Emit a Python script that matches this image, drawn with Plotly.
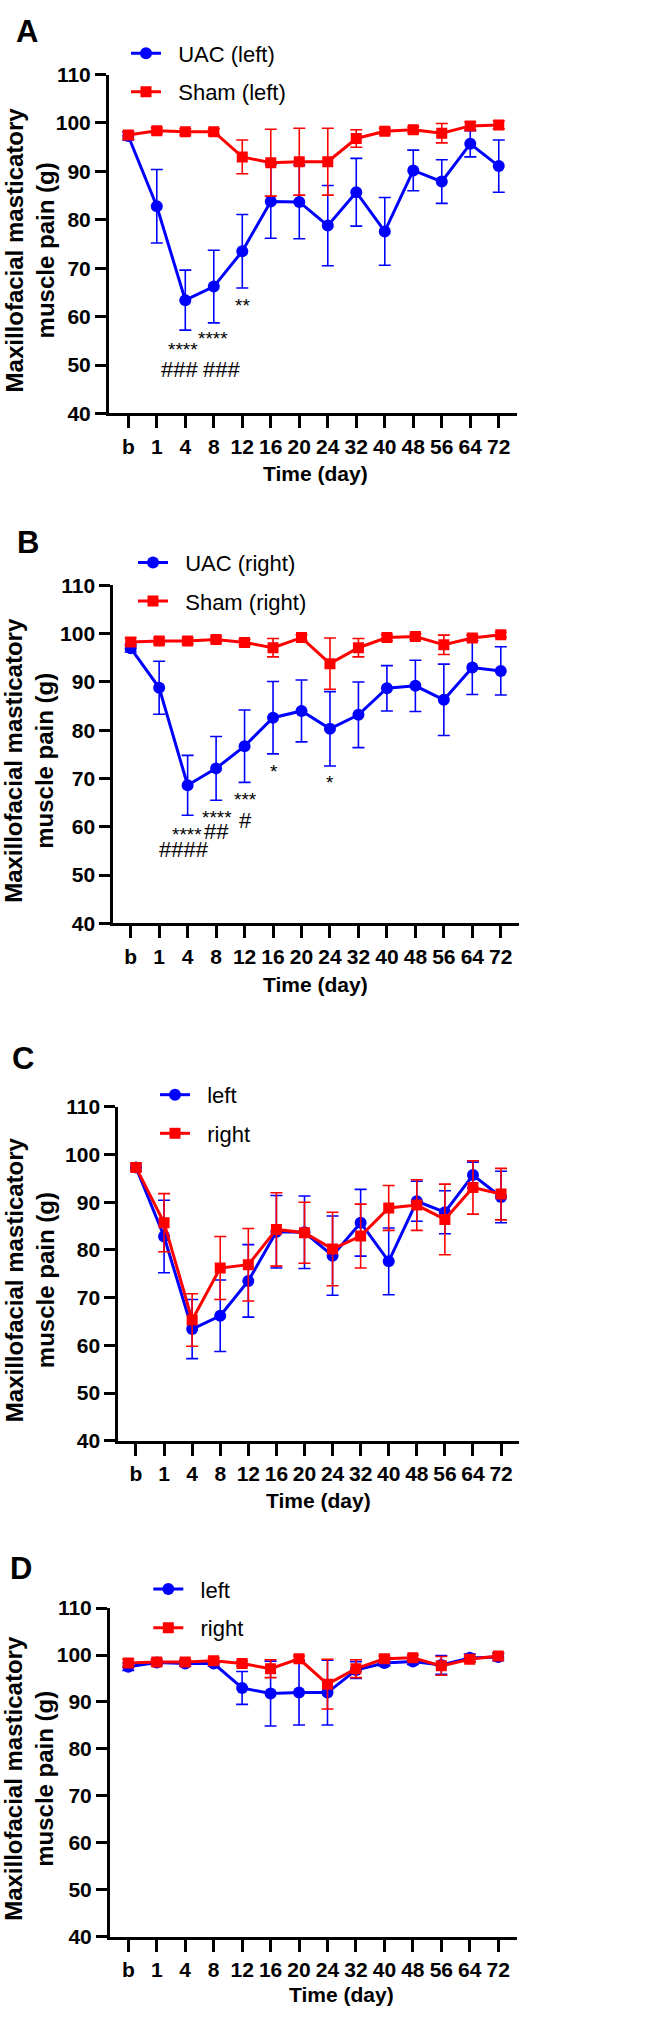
import plotly.graph_objects as go

W, H = 651, 2040

time_labels = ["b", "1", "4", "8", "12", "16", "20", "24", "32", "40", "48", "56", "64", "72"]

uac_left_mean = [97.3, 82.8, 63.4, 66.2, 73.5, 83.8, 83.7, 78.8, 85.7, 77.6, 90.2, 87.9, 95.7, 91.1]
uac_left_sd = [0.8, 7.6, 6.2, 7.5, 7.6, 7.6, 7.6, 8.3, 7.0, 7.0, 4.2, 4.5, 2.7, 5.4]

sham_left_mean = [97.5, 98.4, 98.2, 98.2, 93.0, 91.8, 92.0, 92.0, 96.8, 98.3, 98.6, 97.9, 99.4, 99.6]
sham_left_sd = [0.8, 0.6, 0.6, 0.6, 3.5, 6.9, 6.9, 6.9, 1.8, 0.6, 0.6, 2.0, 0.8, 0.8]

uac_right_mean = [97.0, 88.8, 68.6, 72.1, 76.7, 82.6, 84.0, 80.3, 83.2, 88.7, 89.2, 86.3, 93.0, 92.3]
uac_right_sd = [0.8, 5.5, 6.2, 6.6, 7.5, 7.5, 6.4, 7.7, 6.8, 4.7, 5.3, 7.4, 5.6, 5.0]

sham_right_mean = [98.3, 98.5, 98.5, 98.8, 98.2, 97.1, 99.2, 93.8, 97.1, 99.2, 99.4, 97.7, 99.1, 99.8]
sham_right_sd = [0.8, 0.6, 0.6, 0.6, 0.6, 1.9, 0.6, 5.3, 1.9, 0.6, 0.6, 2.0, 0.6, 0.5]

c_right_mean = [97.3, 85.7, 65.3, 76.2, 76.9, 84.3, 83.6, 80.2, 82.9, 88.8, 89.4, 86.4, 93.1, 91.7]
c_right_sd = [0.8, 6.1, 5.5, 6.6, 7.6, 7.7, 6.4, 7.7, 6.7, 4.7, 5.3, 7.4, 5.6, 5.4]

# significance labels: text, x position in category units, y value
sig_text_a = ["**", "****", "****", "###", "###"]
sig_x_a = [4.02, 2.97, 1.92, 1.81, 3.28]
sig_y_a = [62.2, 55.4, 53.3, 49.1, 49.1]

sig_text_b = ["****", "####", "****", "##", "***", "#", "*", "*"]
sig_x_b = [1.97, 1.87, 3.02, 3.0, 4.02, 4.04, 5.04, 7.0]
sig_y_b = [58.4, 55.2, 62.0, 59.0, 65.6, 61.4, 71.4, 69.2]

BLUE = "#0000ff"
RED = "#ff0000"
FONT = "Liberation Sans"

xs = list(range(len(time_labels)))

# panel geometry in pixels
panels = [
    dict(x0=109, x1=517, y0=63.3, y1=406, xr=[-0.677, 13.64]),
    dict(x0=113.3, x1=519, y0=580, y1=921.7, xr=[-0.611, 13.64]),
    dict(x0=118.3, x1=519.3, y0=1107.3, y1=1445, xr=[-0.63, 13.65]),
    dict(x0=110, x1=517.3, y0=1614.3, y1=1946.7, xr=[-0.643, 13.67]),
]

series = [
    [("UAC (left)", uac_left_mean, uac_left_sd, BLUE, "circle"),
     ("Sham (left)", sham_left_mean, sham_left_sd, RED, "square")],
    [("UAC (right)", uac_right_mean, uac_right_sd, BLUE, "circle"),
     ("Sham (right)", sham_right_mean, sham_right_sd, RED, "square")],
    [("left", uac_left_mean, uac_left_sd, BLUE, "circle"),
     ("right", c_right_mean, c_right_sd, RED, "square")],
    [("left", sham_left_mean, sham_left_sd, BLUE, "circle"),
     ("right", sham_right_mean, sham_right_sd, RED, "square")],
]

legend_pos = [(147, 41.7), (154, 556.7), (176, 1095), (169.3, 1595)]
letters = [("A", 27, 20), ("B", 27.5, 537), ("C", 22.5, 1058), ("D", 21.3, 1574)]
xtitle_pos = [(315, 466.7), (315, 983.3), (318, 1505), (341, 2005)]


def px(x):
    return x / W


def py(y):
    return 1 - y / H


fig = go.Figure()
layout = dict(
    width=W, height=H, margin=dict(l=0, r=0, t=0, b=0),
    paper_bgcolor="white", plot_bgcolor="white", showlegend=True,
    font=dict(family=FONT, color="black"),
)
annotations = []

for i, (p, ser) in enumerate(zip(panels, series)):
    n = "" if i == 0 else str(i + 1)
    leg = "legend" if i == 0 else "legend" + str(i + 1)
    for name, mean, sd, col, sym in ser:
        fig.add_trace(go.Scatter(
            x=xs, y=mean, mode="lines+markers",
            name="\u00a0\u00a0" + name,
            line=dict(color=col, width=3),
            marker=dict(color=col, symbol=sym, size=12 if sym == "circle" else 11),
            error_y=dict(type="data", array=sd, visible=True, color=col, thickness=1.6, width=6),
            xaxis="x" + n, yaxis="y" + n, legend=leg, legendgroup=leg + name,
        ))
    axis_common = dict(
        showline=True, linewidth=3, linecolor="black", ticks="outside",
        tickwidth=3, tickcolor="black", showgrid=False, zeroline=False,
        tickfont=dict(family=FONT, size=21, color="black", weight="bold"),
    )
    layout["xaxis" + n] = dict(
        axis_common, domain=[px(p["x0"]), px(p["x1"])], range=p["xr"],
        anchor="y" + n, tickmode="array", tickvals=xs, ticktext=time_labels,
        ticklen=12, fixedrange=True,
    )
    layout["yaxis" + n] = dict(
        axis_common, domain=[py(p["y1"]), py(p["y0"])], range=[40, 110],
        anchor="x" + n, tickmode="array", tickvals=[40, 50, 60, 70, 80, 90, 100, 110],
        ticklen=11, fixedrange=True,
    )
    lx, ly = legend_pos[i]
    layout[leg] = dict(
        x=px(lx - 21), y=py(ly - 21), xanchor="left", yanchor="top",
        bgcolor="rgba(0,0,0,0)", borderwidth=0, tracegroupgap=7, traceorder="grouped",
        font=dict(family=FONT, size=22, color="black"),
    )
    lt, ltx, lty = letters[i]
    annotations.append(dict(
        text=lt, x=px(ltx), y=py(lty), xref="paper", yref="paper",
        showarrow=False, font=dict(family=FONT, size=31, color="black", weight="bold"),
        xanchor="center", yanchor="middle",
    ))
    tx, ty = xtitle_pos[i]
    annotations.append(dict(
        text="Time (day)", x=px(tx), y=py(ty), xref="paper", yref="paper",
        showarrow=False, font=dict(family=FONT, size=21, color="black", weight="bold"),
        xanchor="center", yanchor="middle",
    ))
    annotations.append(dict(
        text="Maxillofacial masticatory<br>muscle pain (g)", textangle=-90,
        x=px(29.5), y=py((p["y0"] + p["y1"]) / 2 + 6), xref="paper", yref="paper",
        showarrow=False, font=dict(family=FONT, size=24, color="black", weight="bold"),
        xanchor="center", yanchor="middle",
    ))

for t, x, y in zip(sig_text_a, sig_x_a, sig_y_a):
    annotations.append(dict(text=t, x=x, y=y, xref="x", yref="y", showarrow=False,
                            font=dict(family=FONT, size=22 if "#" in t else 19, color="black")))
for t, x, y in zip(sig_text_b, sig_x_b, sig_y_b):
    annotations.append(dict(text=t, x=x, y=y, xref="x2", yref="y2", showarrow=False,
                            font=dict(family=FONT, size=22 if "#" in t else 19, color="black")))

layout["annotations"] = annotations
fig.update_layout(**layout)
fig.write_html(
    "out.html",
    config={"displayModeBar": False, "responsive": False},
    post_script=(
        "document.body.style.margin='0';"
        "document.body.style.overflow='hidden';"
        "document.documentElement.style.overflow='hidden';"
    ),
)
